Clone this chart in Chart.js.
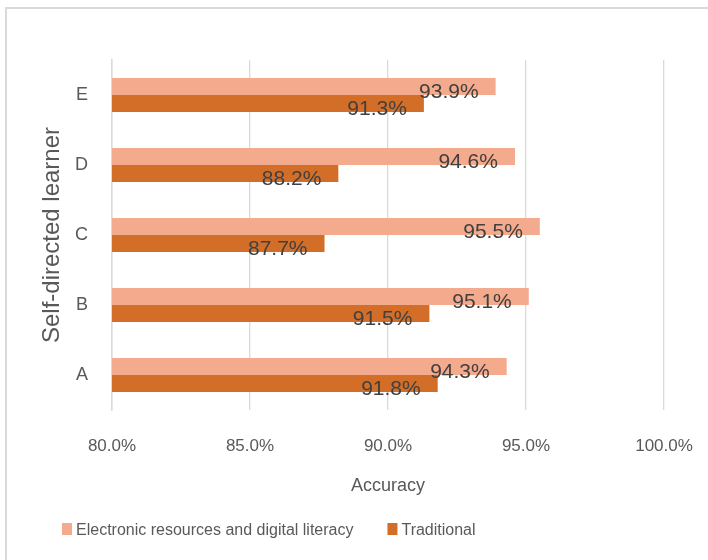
<!DOCTYPE html>
<html>
<head>
<meta charset="utf-8">
<script src="https://cdn.jsdelivr.net/npm/chart.js@4"></script>
<style>
  html, body { margin: 0; padding: 0; background: #fff; }
  #wrap { width: 708px; height: 560px; }
</style>
</head>
<body>
<div id="wrap"><canvas id="chart" width="708" height="560"></canvas></div>
<script>
const categories = ['A', 'B', 'C', 'D', 'E'];
const electronic = [94.3, 95.1, 95.5, 94.6, 93.9];
const traditional = [91.8, 91.5, 87.7, 88.2, 91.3];
const seriesNames = ['Electronic resources and digital literacy', 'Traditional'];
const xTicks = [80, 85, 90, 95, 100];

const lightColor = 'rgb(244,170,140)';
const darkColor = 'rgb(210,110,40)';
const gridColor = '#d9d9d9';
const FONT = "'Liberation Sans', sans-serif";

// outer frame of the chart object
const framePlugin = {
  id: 'frame',
  beforeDraw(chart) {
    const ctx = chart.ctx;
    ctx.save();
    ctx.strokeStyle = gridColor;
    ctx.lineWidth = 2;
    ctx.beginPath();
    ctx.moveTo(6, 560);
    ctx.lineTo(6, 8);
    ctx.lineTo(708, 8);
    ctx.stroke();
    ctx.restore();
  }
};

// value labels near the end of each bar
const valueLabels = {
  id: 'valueLabels',
  afterDatasetsDraw(chart) {
    const ctx = chart.ctx;
    ctx.save();
    ctx.font = '21px ' + FONT;
    ctx.fillStyle = '#404040';
    ctx.textAlign = 'right';
    ctx.textBaseline = 'middle';
    chart.data.datasets.forEach((ds, i) => {
      chart.getDatasetMeta(i).data.forEach((bar, j) => {
        ctx.fillText(ds.data[j].toFixed(1) + '%', bar.x - 17, bar.y + 6);
      });
    });
    ctx.restore();
  }
};

// legend drawn under the axis title
const bottomLegend = {
  id: 'bottomLegend',
  afterDraw(chart) {
    const ctx = chart.ctx;
    ctx.save();
    ctx.font = '16px ' + FONT;
    ctx.textBaseline = 'middle';
    ctx.textAlign = 'left';
    let x = 62;
    const y = 531;
    chart.data.datasets.forEach(ds => {
      ctx.fillStyle = ds.backgroundColor;
      ctx.fillRect(x, y - 8, 10, 12);
      ctx.fillStyle = '#595959';
      ctx.fillText(ds.label, x + 14, y);
      x += 14 + ctx.measureText(ds.label).width + 34;
    });
    ctx.restore();
  }
};

new Chart(document.getElementById('chart'), {
  type: 'bar',
  data: {
    labels: categories,
    datasets: [
      { label: seriesNames[0], data: electronic, backgroundColor: lightColor },
      { label: seriesNames[1], data: traditional, backgroundColor: darkColor }
    ]
  },
  options: {
    indexAxis: 'y',
    responsive: false,
    animation: false,
    layout: { padding: { top: 60, right: 44, left: 0, bottom: 0 } },
    datasets: { bar: { categoryPercentage: 0.486, barPercentage: 1 } },
    plugins: {
      legend: { display: false },
      tooltip: { enabled: false }
    },
    scales: {
      x: {
        min: 80,
        max: 100,
        afterBuildTicks(scale) {
          scale.ticks = xTicks.map(v => ({ value: v }));
        },
        afterFit(scale) {
          scale.height = 150;
          scale.paddingLeft = 0;
          scale.paddingRight = 0;
        },
        grid: { color: gridColor, lineWidth: 1.3, drawTicks: false },
        border: { display: false },
        ticks: {
          padding: 26,
          color: '#595959',
          font: { family: FONT, size: 17 },
          callback: v => v.toFixed(1) + '%'
        },
        title: {
          display: true,
          text: 'Accuracy',
          color: '#595959',
          font: { family: FONT, size: 18 },
          padding: { top: 0, bottom: 63 }
        }
      },
      y: {
        reverse: true,
        afterFit(scale) { scale.width = 112; },
        grid: { display: false, drawTicks: false },
        border: { display: true, color: gridColor, width: 1.5 },
        ticks: {
          padding: 24,
          color: '#595959',
          font: { family: FONT, size: 18 }
        },
        title: {
          display: true,
          text: 'Self-directed learner',
          color: '#595959',
          font: { family: FONT, size: 24 },
          padding: { top: 38, bottom: 0 }
        }
      }
    }
  },
  plugins: [framePlugin, valueLabels, bottomLegend]
});
</script>
</body>
</html>
